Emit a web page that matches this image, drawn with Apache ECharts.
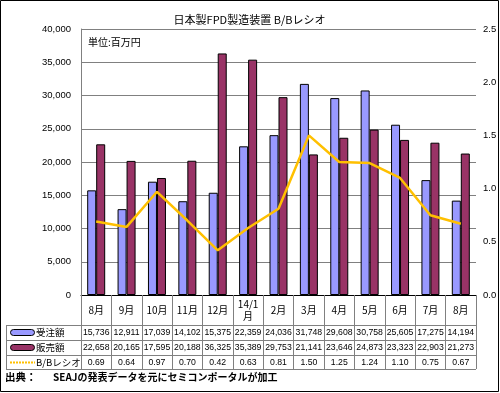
<!DOCTYPE html>
<html><head><meta charset="utf-8">
<script src="https://cdn.jsdelivr.net/npm/echarts@6/dist/echarts.min.js"></script>
<style>html,body{margin:0;padding:0;background:#fff}#c{width:500px;height:393px}</style>
</head><body><div id="c"></div>
<script>
const months = ['8月','9月','10月','11月','12月','14/1\n月','2月','3月','4月','5月','6月','7月','8月'];
const orders = [15736,12911,17039,14102,15375,22359,24036,31748,29608,30758,25605,17275,14194];
const sales  = [22658,20165,17595,20188,36325,35389,29753,21141,23646,24873,23323,22903,21273];
const ratio  = [0.69,0.64,0.97,0.70,0.42,0.63,0.81,1.50,1.25,1.24,1.10,0.75,0.67];
const leftTicks = [0,5000,10000,15000,20000,25000,30000,35000,40000];
const rightTicks = [0.0,0.5,1.0,1.5,2.0,2.5];
const names = ['受注額','販売額','B/Bレシオ'];
const colors = ['#9999FF','#993366','#FFC000'];

const FONT = '"Noto Sans CJK JP", sans-serif';
const NUMFONT = '"Liberation Sans", Arial, sans-serif';
const fmtInt = v => v.toLocaleString('en-US');
const fmtR = v => v.toFixed(2);

function rowAxis(arr, fmt, margin) {
  return {
    type: 'category', data: months, gridIndex: 0, position: 'bottom',
    axisLine: {show: false}, axisTick: {show: false}, splitLine: {show: false},
    axisLabel: {interval: 0, margin: margin, verticalAlign: 'middle',
      fontFamily: NUMFONT, fontSize: 8.7, color: '#000',
      formatter: (v, i) => fmt(arr[i])}
  };
}

const rowY = [332.5, 347.5, 362.5];
const legendGraphics = [];
names.forEach((n, i) => {
  if (i < 2) {
    legendGraphics.push({type: 'rect', shape: {x: 10.5, y: rowY[i] - 3, width: 24, height: 6, r: 3},
      style: {fill: colors[i], stroke: '#000', lineWidth: 1}, silent: true});
  } else {
    legendGraphics.push({type: 'line', shape: {x1: 10, y1: rowY[i], x2: 35, y2: rowY[i]},
      style: {stroke: colors[i], lineWidth: 2, lineDash: [2, 1]}, silent: true});
  }
  legendGraphics.push({type: 'text', x: 36, y: rowY[i],
    style: {text: n, fontFamily: FONT, fontSize: 9.5, fill: '#000', verticalAlign: 'middle'}});
});

const chart = echarts.init(document.getElementById('c'), null, {renderer: 'canvas'});
chart.setOption({
  animation: false,
  backgroundColor: '#fff',
  title: {text: '日本製FPD製造装置 B/Bレシオ', left: 244.5, textAlign: 'center', top: 9,
    textStyle: {fontFamily: FONT, fontSize: 11, fontWeight: 'normal', color: '#000'}},
  grid: {left: 81, right: 24, top: 29, bottom: 98, containLabel: false},
  xAxis: [
    {type: 'category', data: months, gridIndex: 0,
     axisLine: {lineStyle: {color: '#000', width: 1}},
     axisTick: {show: true, interval: 0, length: 74, lineStyle: {color: '#808080'}},
     axisLabel: {interval: 0, margin: 15, verticalAlign: 'middle', lineHeight: 12,
       fontFamily: FONT, fontSize: 10, color: '#000'},
     splitLine: {show: false}},
    rowAxis(orders, fmtInt, 37.5),
    rowAxis(sales, fmtInt, 52.5),
    rowAxis(ratio, fmtR, 67.5)
  ],
  yAxis: [
    {type: 'value', min: 0, max: 40000, interval: 5000,
     axisLine: {show: true, lineStyle: {color: '#808080'}}, axisTick: {show: false},
     axisLabel: {margin: 10, fontFamily: NUMFONT, fontSize: 9.5, color: '#000',
       formatter: v => fmtInt(v)},
     splitLine: {lineStyle: {color: '#808080', width: 1}}},
    {type: 'value', min: 0, max: 2.5, interval: 0.5,
     axisLine: {show: false}, axisTick: {show: false},
     axisLabel: {margin: 7, fontFamily: NUMFONT, fontSize: 9.5, color: '#000',
       formatter: v => v.toFixed(1)},
     splitLine: {show: false}}
  ],
  series: [
    {name: names[0], type: 'bar', data: orders, barWidth: 9, barGap: '0%',
     itemStyle: {color: colors[0], borderColor: '#000', borderWidth: 1}},
    {name: names[1], type: 'bar', data: sales, barWidth: 9,
     itemStyle: {color: colors[1], borderColor: '#000', borderWidth: 1}},
    {name: names[2], type: 'line', yAxisIndex: 1, data: ratio, symbol: 'none',
     lineStyle: {color: colors[2], width: 2.5}, itemStyle: {color: colors[2]}}
  ],
  graphic: [
    {type: 'rect', shape: {x: 0.5, y: 0.5, width: 498, height: 391},
     style: {fill: 'none', stroke: '#000', lineWidth: 1}, silent: true},
    {type: 'text', left: 88, top: 37,
     style: {text: '単位:百万円', fontFamily: FONT, fontSize: 10, fill: '#000'}},
    {type: 'line', shape: {x1: 6, y1: 325.5, x2: 476, y2: 325.5}, style: {stroke: '#808080', lineWidth: 1}},
    {type: 'line', shape: {x1: 6, y1: 340.5, x2: 476, y2: 340.5}, style: {stroke: '#808080', lineWidth: 1}},
    {type: 'line', shape: {x1: 6, y1: 355.5, x2: 476, y2: 355.5}, style: {stroke: '#808080', lineWidth: 1}},
    {type: 'line', shape: {x1: 6, y1: 369.5, x2: 476, y2: 369.5}, style: {stroke: '#808080', lineWidth: 1}},
    {type: 'line', shape: {x1: 6.5, y1: 325, x2: 6.5, y2: 370}, style: {stroke: '#808080', lineWidth: 1}},
    ...legendGraphics,
    {type: 'text', left: 5, top: 372,
     style: {text: '出典：', fontFamily: FONT, fontSize: 10.5, fontWeight: 'bold', fill: '#000'}},
    {type: 'text', left: 53, top: 372,
     style: {text: 'SEAJの発表データを元にセミコンポータルが加工', fontFamily: FONT, fontSize: 10, fontWeight: 'bold', fill: '#000'}}
  ]
});
</script></body></html>
